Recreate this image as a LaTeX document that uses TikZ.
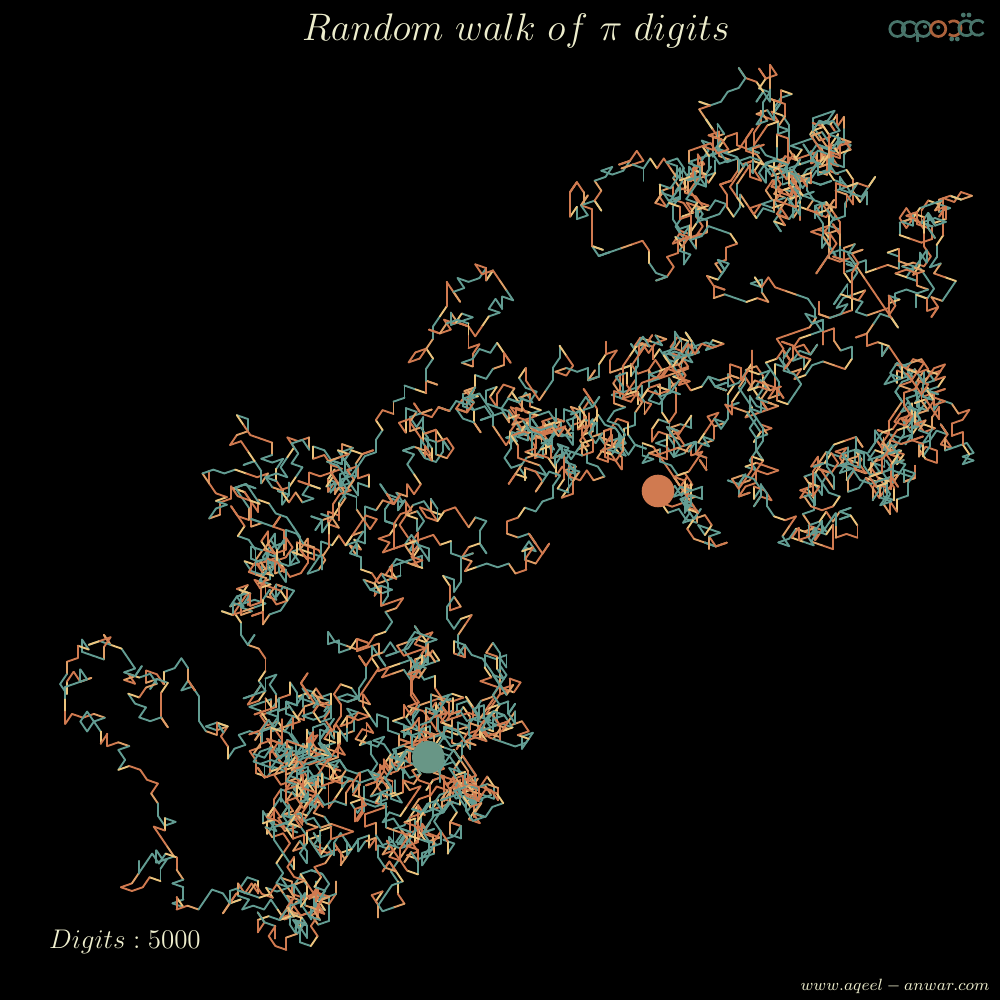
\documentclass[tikz,border=0pt]{standalone}
\newcount\piRa \newcount\piRb \newcount\piQ \newcount\piD \newcount\piX \newcount\piI \newcount\piJ \newcount\piEnd \newcount\piLead \newcount\piK \newcount\wR \newcount\wS \newcount\wL
\def\piInner{%
 \multiply\piRa 10000 \advance\piRa\count\piI
 \piQ\piRa \divide\piQ\piD
 \advance\count\piJ by \piSgn\piQ
 \multiply\piQ\piD \advance\piRa-\piQ
 \multiply\piRb 10000 \advance\piRb\count\piI
 \piQ\piRb \divide\piQ\piX
 \count\piI\piQ
 \multiply\piQ\piX \advance\piRb-\piQ
 \advance\piI 1 \advance\piJ 1
 \ifnum\piI<\piEnd \expandafter\piInner\fi}
\def\piAdv{\ifnum\piLead<\piEnd \ifnum\count\piLead=0 \advance\piLead 1 \expandafter\expandafter\expandafter\piAdv\fi\fi}
\def\piFlip{\if\piSgn+\def\piSgn{-}\else\def\piSgn{+}\fi}
\def\piOuter{%
 \piRa0 \piRb0 \piI\piLead \piJ\piLead \advance\piJ -2000
 \piInner
 \advance\piD 2 \piFlip
 \piAdv
 \ifnum\piLead<\piEnd \expandafter\piOuter\fi}
\def\piDivLoop{\multiply\piRb 10000 \advance\piRb\count\piI \piQ\piRb \divide\piQ\piX \count\piI\piQ \multiply\piQ\piX \advance\piRb-\piQ \advance\piI 1 \ifnum\piI<\piEnd\expandafter\piDivLoop\fi}
\def\piPass#1#2#3{%
 \piI22000 \loop\ifnum\piI<\piEnd \count\piI 0 \advance\piI 1 \repeat
 \count22000=#1 \piX#2 \piRb0 \piI22000 \piDivLoop
 \piX#2 \multiply\piX#2 \piD1 \def\piSgn{#3}\piLead22000 \piOuter}
\piEnd=23256
\piPass{16}{5}{+}
\piPass{4}{239}{-}
\piI=21255
\loop\ifnum\piI>20000
 \piQ\count\piI \divide\piQ 10000
 \piRa\piQ \multiply\piRa 10000 \advance\count\piI-\piRa
 \ifnum\count\piI<0 \advance\count\piI 10000 \advance\piQ-1 \fi
 \advance\piI-1
 \advance\count\piI\piQ
\repeat
\count24000=\count20000
\piJ24001 \piI20001
\loop\ifnum\piI<21254
 \piQ\count\piI \piRa\piQ \divide\piRa 1000 \count\piJ\piRa \advance\piJ 1
 \multiply\piRa 1000 \advance\piQ-\piRa
 \piRa\piQ \divide\piRa 100 \count\piJ\piRa \advance\piJ 1
 \multiply\piRa 100 \advance\piQ-\piRa
 \piRa\piQ \divide\piRa 10 \count\piJ\piRa \advance\piJ 1
 \multiply\piRa 10 \advance\piQ-\piRa
 \count\piJ\piQ \advance\piJ 1
 \advance\piI 1
\repeat
\newdimen\wx \newdimen\wy
\definecolor{wt}{RGB}{98,156,146}
\definecolor{wy}{RGB}{236,196,125}
\definecolor{wo}{RGB}{208,122,80}
\definecolor{wdisc}{RGB}{104,150,134}
\definecolor{wtext}{RGB}{238,238,205}
\definecolor{wlt}{RGB}{72,116,106}
\definecolor{wlo}{RGB}{172,98,60}
\colorlet{wc0}{wt}\colorlet{wc1}{wy}\colorlet{wc2}{wo}\colorlet{wc3}{wo!50!wy}
\foreach \d in {0,...,9}{\pgfmathsetlengthmacro{\a}{5.75pt*sin(36*\d)}\expandafter\xdef\csname wdx\d\endcsname{\a}\pgfmathsetlengthmacro{\a}{6.15pt*cos(36*\d)}\expandafter\xdef\csname wdy\d\endcsname{\a}}
\def\wrand{\multiply\wR 25173 \advance\wR 13849 \piQ\wR \divide\piQ 65536 \multiply\piQ 65536 \advance\wR-\piQ \piQ\wR \divide\piQ 4096 }
\def\wnext{%
 \advance\wL-1
 \ifnum\wL<1
  \advance\wS 1 \ifnum\wS=4 \wS0 \fi
  \wrand
  \ifcase\wS \wL\piQ \divide\wL 3 \advance\wL 2
  \or \wL1
  \or \wL\piQ \divide\wL 3 \advance\wL 1
  \or \wL1
  \fi
 \fi}
\def\walk{%
 \piI24000 \wR=4242 \wS=0 \wL=4
 \wx=328.5pt \wy=254pt
 \walkloop}
\def\walkloop{%
 \pgfpathmoveto{\pgfqpoint{\wx}{\wy}}%
 \advance\wx\csname wdx\the\count\piI\endcsname
 \advance\wy\csname wdy\the\count\piI\endcsname
 \pgfpathlineto{\pgfqpoint{\wx}{\wy}}%
 \pgfsetstrokecolor{wc\the\wS}\pgfusepath{stroke}%
 \wnext
 \advance\piI 1
 \ifnum\piI<29000 \expandafter\walkloop\fi}
\tikzset{logot/.style={draw=wlt,line width=1.35pt},logoo/.style={draw=wlo,line width=1.35pt},logod/.style={fill=wlt}}
\begin{document}
\begin{tikzpicture}[x=0.5pt,y=0.5pt]
\fill[black] (0,0) rectangle (1000,1000);
\useasboundingbox (0,0) rectangle (1000,1000);
\begin{scope}[line width=0.95pt,line cap=round,line join=round]
\walk
\xdef\ex{\the\wx}\xdef\ey{\the\wy}
\end{scope}
\fill[wo] (658,509) circle (16.3);
\fill[wdisc] (\ex,\ey) circle (16.3);
\node[text=wtext,scale=0.926,font=\fontsize{20.74}{24}\selectfont] (title) at (516,969) {$Random\ walk\ of\ \pi\ digits$};
\node[text=wtext,scale=0.9375,font=\fontsize{14.4}{18}\selectfont] (dg) at (125,58) {$Digits:5000$};
\node[text=wtext,scale=1.02,font=\fontsize{8}{11}\selectfont] (web) at (895,14) {$www.aqeel-anwar.com$};
% logo
\path[logot] (897.3,971) circle (7.5);
\path[logot] (915.4,975.6) arc (40:320:7.5);
\path[logot] (923.3,971) circle (7.5);
\path[logot] (917,970) -- (917.7,958);
\path[logoo] (938.3,971) circle (7.5);
\path[logoo] (948.8,977.4) arc (130:-130:7.5);
\path[logot] (972,976.6) arc (40:320:7.5);
\path[logot] (983.6,977) arc (40:320:7.5);
\fill[logod] (963.3,985) circle (2.4);
\fill[logod] (969,985) circle (2.4);
\fill[logod] (951.7,961) circle (2.4);
\fill[logod] (957.3,961) circle (2.4);
\fill[logod] (925,973.3) circle (2);
\fill[logod] (938.3,972.7) circle (2);
\end{tikzpicture}
\end{document}
